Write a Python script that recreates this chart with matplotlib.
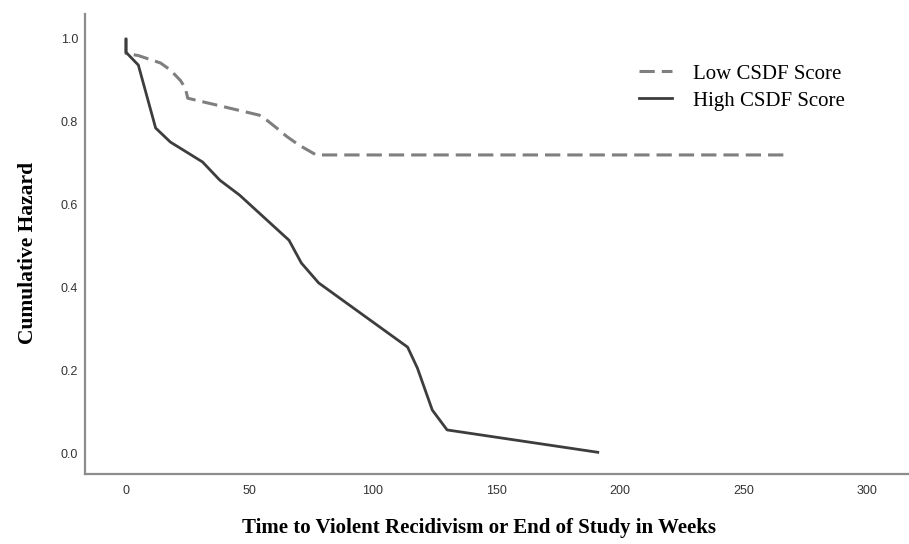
import matplotlib.pyplot as plt

# Cumulative hazard curves
low_weeks = [0, 0, 5, 14, 18, 22, 24, 25, 54, 57, 61, 65, 70, 77, 267]
low_hazard = [1.0, 0.965, 0.96, 0.942, 0.925, 0.90, 0.882, 0.857, 0.816, 0.804, 0.785, 0.765, 0.744, 0.72, 0.72]

high_weeks = [0, 0, 5, 12, 18, 31, 38, 46, 66, 71, 78, 114, 118, 124, 130, 191]
high_hazard = [1.0, 0.968, 0.937, 0.785, 0.751, 0.703, 0.659, 0.623, 0.514, 0.459, 0.411, 0.256, 0.205, 0.104, 0.056, 0.002]

x_ticks = [0, 50, 100, 150, 200, 250, 300]
y_ticks = [0.0, 0.2, 0.4, 0.6, 0.8, 1.0]

fig = plt.figure(figsize=(9.09, 5.44), dpi=100)
ax = fig.add_axes([0.0935, 0.129, 0.9065, 0.845])

ax.plot(low_weeks, low_hazard, color="#7f7f7f", linewidth=2.2,
        linestyle=(0, (5, 2.3)), label="Low CSDF Score")
ax.plot(high_weeks, high_hazard, color="#3d3d3d", linewidth=2.0,
        label="High CSDF Score")

ax.set_xlim(-16.6, 317)
ax.set_ylim(-0.05, 1.06)
ax.set_xticks(x_ticks)
ax.set_yticks(y_ticks)
ax.set_yticklabels(["%.1f" % v for v in y_ticks])
ax.tick_params(length=0, labelsize=9, labelcolor="#333333", pad=5)
ax.tick_params(axis="x", pad=8)
for lab in ax.get_xticklabels() + ax.get_yticklabels():
    lab.set_family("Liberation Sans")

for side in ["top", "right"]:
    ax.spines[side].set_visible(False)
for side in ["left", "bottom"]:
    ax.spines[side].set_color("#8c8c8c")
    ax.spines[side].set_linewidth(1.6)

ax.set_ylabel("Cumulative Hazard", family="Liberation Serif", fontweight="bold", fontsize=15.5)
ax.yaxis.set_label_coords(-0.057, 0.48)
ax.set_xlabel("Time to Violent Recidivism or End of Study in Weeks",
              family="Liberation Serif", fontweight="bold", fontsize=15)
ax.xaxis.set_label_coords(0.478, -0.097)

leg = ax.legend(loc="upper left", bbox_to_anchor=(0.6495, 0.932), frameon=False,
                prop={"family": "Liberation Serif", "size": 15},
                handlelength=1.6, handletextpad=1.0, labelspacing=0.35)

fig.savefig("out.png", dpi=100)
